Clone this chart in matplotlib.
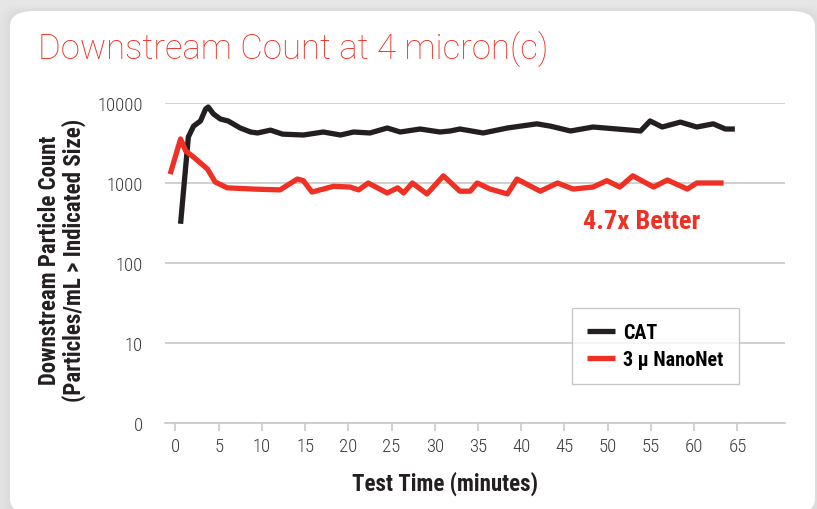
"""
Downstream particle count vs test time, CAT vs 3 micron NanoNet
"""

import numpy as np
import matplotlib
matplotlib.use("Agg")
import matplotlib.pyplot as plt
from matplotlib.patches import FancyBboxPatch
from matplotlib import font_manager

# ---- data (minutes, particles/mL) ----
cat_time = [0.6, 1.5, 2.1, 2.9, 3.5, 3.8, 4.4, 5.2, 6.1, 7.5, 8.7, 9.5, 11.0,
            12.4, 14.8, 17.1, 19.1, 20.6, 22.5, 24.5, 26.0, 28.3, 30.6, 31.8,
            32.9, 35.6, 38.4, 41.8, 43.4, 45.7, 48.3, 51.1, 53.8, 54.9, 56.3,
            58.4, 60.3, 62.2, 63.6, 64.7]
cat_count = [309, 3760, 5130, 5960, 8410, 8910, 7300, 6310, 5960, 4870, 4340,
             4220, 4580, 4080, 3980, 4340, 3980, 4340, 4220, 4870, 4340, 4730,
             4340, 4470, 4730, 4220, 4870, 5490, 5130, 4470, 5010, 4730, 4470,
             5960, 5010, 5770, 5010, 5490, 4730, 4730]

nano_time = [-0.6, 0.6, 1.2, 2.1, 3.7, 4.6, 6.0, 9.0, 12.1, 14.1, 14.8, 15.8,
             18.3, 20.2, 21.2, 22.3, 24.5, 25.7, 26.4, 27.4, 29.1, 31.0, 32.9,
             34.1, 34.9, 36.4, 38.4, 39.5, 42.2, 44.2, 46.0, 48.3, 49.9, 51.4,
             52.9, 55.3, 56.9, 59.2, 60.3, 63.4]
nano_count = [1290, 3550, 2510, 2110, 1500, 1030, 870, 840, 820, 1120, 1070,
              770, 910, 890, 820, 1000, 750, 870, 750, 1000, 730, 1230, 790,
              790, 1000, 840, 730, 1120, 790, 1000, 840, 890, 1070, 890, 1230,
              890, 1090, 840, 1000, 1000]

x_ticks = list(range(0, 70, 5))
y_ticks = [1, 10, 100, 1000, 10000]
y_tick_labels = ["0", "10", "100", "1000", "10000"]

RED = "#ee3124"
BLACK = "#231f20"


def pick_font(names):
    installed = {f.name for f in font_manager.fontManager.ttflist}
    return [n for n in names if n in installed] + ["DejaVu Sans"]


cond = pick_font(["Liberation Sans Narrow", "Roboto Condensed", "Liberation Sans"])
light = pick_font(["Roboto", "Liberation Sans"])

fig = plt.figure(figsize=(8.17, 5.10), dpi=100)
fig.patch.set_facecolor("#e6e6e6")

# card with soft shadow
for i, a in enumerate([0.05, 0.06, 0.08]):
    pad = (3 - i) * 0.004
    fig.patches.append(FancyBboxPatch(
        (10 / 817 - pad, -0.05), 805 / 817 + 2 * pad, 1 - 12 / 510 + 0.05 + pad,
        boxstyle="round,pad=0,rounding_size=0.03", transform=fig.transFigure,
        facecolor="#b0b0b0", edgecolor="none", alpha=a, zorder=-3))
fig.patches.append(FancyBboxPatch(
    (10 / 817, -0.01), 805 / 817, 1 - 12 / 510 + 0.01,
    boxstyle="round,pad=0,rounding_size=0.03", transform=fig.transFigure,
    facecolor="white", edgecolor="none", zorder=-2))

ax = fig.add_axes([165 / 817, 1 - 424 / 510, 620 / 817, 320 / 510])
ax.set_facecolor("none")
ax.set_yscale("log")
ax.set_ylim(1, 10000)
ax.set_xlim(-1.2, 70.5)

ax.plot(cat_time, cat_count, color=BLACK, lw=3.8, solid_joinstyle="round",
        solid_capstyle="butt", label="CAT", zorder=3)
ax.plot(nano_time, nano_count, color=RED, lw=3.8, solid_joinstyle="round",
        solid_capstyle="butt", label="3 \u03bc NanoNet", zorder=3)

ax.set_yticks(y_ticks)
ax.set_yticklabels(y_tick_labels)
ax.yaxis.set_minor_locator(matplotlib.ticker.NullLocator())
ax.set_xticks(x_ticks)
ax.grid(axis="y", color="#c8c8c8", lw=1.2)
for s in ["top", "right", "left"]:
    ax.spines[s].set_visible(False)
ax.spines["bottom"].set_color("#c8c8c8")
ax.spines["bottom"].set_linewidth(1.2)
ax.tick_params(axis="y", length=0, pad=16, labelsize=13.5, labelcolor="#3a3a3a")
ax.tick_params(axis="x", length=6, width=1.2, color="#c8c8c8", pad=4,
               labelsize=13.5, labelcolor="#3a3a3a")
for lab in ax.get_xticklabels() + ax.get_yticklabels():
    lab.set_family(cond)
    lab.set_fontweight("light")

fig.text(445 / 817, 1 - 484 / 510, "Test Time (minutes)", family=cond,
         fontweight="bold", fontsize=16.5, color=BLACK, ha="center", va="center")
fig.text(62 / 817, 1 - 260 / 510,
         "Downstream Particle Count\n(Particles/mL > Indicated Size)",
         rotation=90, ha="center", va="center", family=cond, fontweight="bold",
         fontsize=16.5, color=BLACK, linespacing=1.0)

fig.text(38 / 817, 1 - 50 / 510, "Downstream Count at 4 micron(c)", color=RED,
         family=light, fontweight="light", fontsize=25, va="center", ha="left")

ax.text(53.9, 10 ** ((424 - 222) / 80), "4.7x Better", color=RED, family=cond,
        fontweight="bold", fontsize=19, ha="center", va="center")

leg = ax.legend(loc="upper left", bbox_to_anchor=((572 - 165) / 620, (424 - 309) / 320),
                frameon=True, fancybox=False, handlelength=1.4, handletextpad=0.4,
                borderpad=0.75, labelspacing=0.4, borderaxespad=0,
                prop={"family": cond, "weight": "bold", "size": 14.5})
leg.get_frame().set_edgecolor("#bbbbbb")
leg.get_frame().set_linewidth(1.0)

fig.savefig("out.png", dpi=100, facecolor=fig.get_facecolor())
